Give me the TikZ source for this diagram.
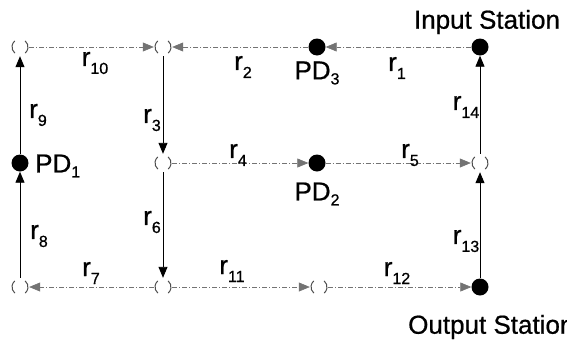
\documentclass[tikz,border=0pt]{standalone}
\usepackage{fontspec}
\setmainfont{Liberation Sans}[BoldFont=Liberation Sans,BoldFeatures={FakeBold=0.7}]
\usetikzlibrary{arrows.meta}
\newcommand\rsub[1]{r\raisebox{-8pt}{\fontsize{16}{16}\selectfont #1}}
\newcommand\pdsub[1]{PD\raisebox{-5pt}{\fontsize{16}{16}\selectfont #1}}
\tikzset{
  hollow/.style={circle,minimum size=18pt,inner sep=0pt},
  full/.style={circle,fill=black,minimum size=17pt,inner sep=0pt},
  lab/.style={inner sep=0pt,font=\fontsize{26}{28}\selectfont\bfseries},
  big/.style={inner sep=0pt,font=\fontsize{26}{30}\selectfont\bfseries},
  tip/.style={-{Triangle[length=11pt,width=9pt]}},
  hl/.style={tip,draw=black!55,line width=0.6pt,dash pattern=on 5pt off 2pt on 1pt off 2pt},
  vl/.style={tip,draw=black,line width=0.9pt},
  arcs/.style={draw=black!70,line width=1pt}
}
\begin{document}
\begin{tikzpicture}[x=1pt,y=-1pt]
\useasboundingbox (0,0) rectangle (567,343);
% nodes
\node[hollow] (TL) at (20,47) {};
\node[hollow] (T2) at (163,47) {};
\node[full] (PD3) at (317,47) {};
\node[full] (IN) at (480,47) {};
\node[full] (PD1) at (20,163) {};
\node[hollow] (M2) at (163,163) {};
\node[full] (PD2) at (317,163) {};
\node[hollow] (M4) at (480,163) {};
\node[hollow] (BL) at (20,287) {};
\node[hollow] (B2) at (163,287) {};
\node[hollow] (B3) at (319,287) {};
\node[full] (OUT) at (480,287) {};
% hollow node outlines "( )"
\foreach \n in {TL,T2,M2,M4,BL,B2,B3}{
  \draw[arcs] (\n.center) ++(130:8) arc (130:230:8);
  \draw[arcs] (\n.center) ++(-50:8) arc (-50:50:8);
}
% connectors
\draw[hl] (IN) -- (PD3);
\draw[hl] (PD3) -- (T2);
\draw[hl] (TL) -- (T2);
\draw[vl] (T2) -- (M2);
\draw[hl] (M2) -- (PD2);
\draw[hl] (PD2) -- (M4);
\draw[vl] (M4) -- (IN);
\draw[vl] (OUT) -- (M4);
\draw[vl] (M2) -- (B2);
\draw[hl] (B2) -- (BL);
\draw[vl] (BL) -- (PD1);
\draw[vl] (PD1) -- (TL);
\draw[hl] (B2) -- (B3);
\draw[hl] (B3) -- (OUT);
% labels
\node[lab] (l10) at (95,63) {\rsub{10}};
\node[lab] (l2) at (243,67) {\rsub{2}};
\node[lab] (l1) at (397,68) {\rsub{1}};
\node[lab] (l9) at (38,115) {\rsub{9}};
\node[lab] (l3) at (152,120) {\rsub{3}};
\node[lab] (l14) at (466,107) {\rsub{14}};
\node[lab] (l4) at (238,155) {\rsub{4}};
\node[lab] (l5) at (410,155) {\rsub{5}};
\node[lab] (l8) at (39,236) {\rsub{8}};
\node[lab] (l6) at (152,222) {\rsub{6}};
\node[lab] (l13) at (466,241) {\rsub{13}};
\node[lab] (l7) at (91,273) {\rsub{7}};
\node[lab] (l11) at (232,271) {\rsub{11}};
\node[lab] (l12) at (397,273) {\rsub{12}};
\node[lab,anchor=west] (pd1) at (35,166) {\pdsub{1}};
\node[lab] (pd2) at (317,194) {\pdsub{2}};
\node[lab] (pd3) at (317,73) {\pdsub{3}};
\node[big] (ins) at (487,22) {Input Station};
\node[big,anchor=west] (outs) at (408,327) {Output Station};
\end{tikzpicture}
\end{document}
